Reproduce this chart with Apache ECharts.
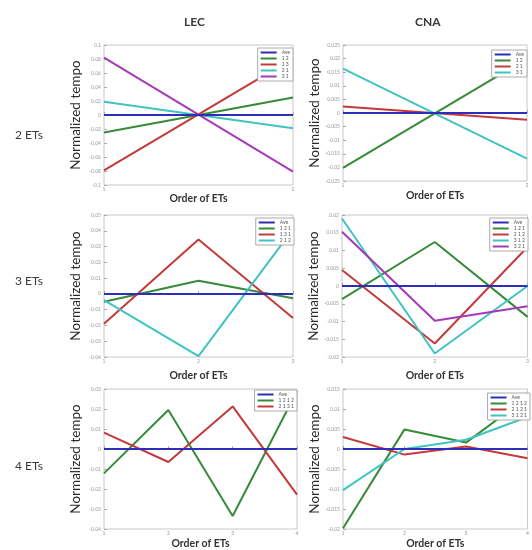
<!DOCTYPE html>
<html><head><meta charset="utf-8">
<script src="https://cdn.jsdelivr.net/npm/echarts@6.0.0/dist/echarts.min.js"></script>
<style>html,body{margin:0;padding:0;background:#fff}#c{width:532px;height:550px}</style>
</head><body><div id="c"></div>
<script>
// ---------- data ----------
const colTitles = ['LEC', 'CNA'];
const rowTitles = ['2 ETs', '3 ETs', '4 ETs'];
const xName = 'Order of ETs';
const yName = 'Normalized tempo';

// 2 ETs - LEC
const lec2Names = ['Ave', '1 2', '1 3', '2 1', '3 1'];
const lec2Ave = [0, 0];
const lec2_12 = [-0.025, 0.025];
const lec2_13 = [-0.079, 0.081];
const lec2_21 = [0.019, -0.019];
const lec2_31 = [0.082, -0.081];
// 2 ETs - CNA
const cna2Names = ['Ave', '1 2', '2 1', '3 1'];
const cna2Ave = [0, 0];
const cna2_12 = [-0.0202, 0.02];
const cna2_21 = [0.0024, -0.0025];
const cna2_31 = [0.0163, -0.0168];
// 3 ETs - LEC
const lec3Names = ['Ave', '1 2 1', '1 3 1', '2 1 2'];
const lec3Ave = [0, 0, 0];
const lec3_121 = [-0.005, 0.0083, -0.0027];
const lec3_131 = [-0.019, 0.0345, -0.0153];
const lec3_212 = [-0.004, -0.0394, 0.041];
// 3 ETs - CNA
const cna3Names = ['Ave', '1 2 1', '2 1 2', '3 1 2', '3 2 1'];
const cna3Ave = [0, 0, 0];
const cna3_121 = [-0.0037, 0.0124, -0.0087];
const cna3_212 = [0.0045, -0.0162, 0.011];
const cna3_312 = [0.019, -0.019, 0];
const cna3_321 = [0.0153, -0.0098, -0.0057];
// 4 ETs - LEC
const lec4Names = ['Ave', '1 2 1 2', '2 1 2 1'];
const lec4Ave = [0, 0, 0, 0];
const lec4_1212 = [-0.0122, 0.0195, -0.0335, 0.029];
const lec4_2121 = [0.0082, -0.0065, 0.0213, -0.0228];
// 4 ETs - CNA
const cna4Names = ['Ave', '1 2 1 2', '2 1 2 1', '3 1 2 1'];
const cna4Ave = [0, 0, 0, 0];
const cna4_1212 = [-0.0198, 0.0049, 0.0016, 0.013];
const cna4_2121 = [0.003, -0.0014, 0.0006, -0.0023];
const cna4_3121 = [-0.0103, 0, 0.0023, 0.008];

// y axis ranges (min, max, step)
const yRanges = [[-0.1, 0.1, 0.02], [-0.025, 0.025, 0.005], [-0.04, 0.05, 0.01], [-0.02, 0.02, 0.005], [-0.04, 0.03, 0.01], [-0.02, 0.015, 0.005]];

// ---------- styling / layout ----------
const C = {blue: '#2e2eb8', green: '#378a37', red: '#c43a3a', cyan: '#3fc3c3', purple: '#a63ab6'};
const panels = [
  {names: lec2Names, vals: [lec2Ave, lec2_12, lec2_13, lec2_21, lec2_31], cols: [C.blue, C.green, C.red, C.cyan, C.purple],
   grid: {left: 104, top: 45, width: 189, height: 140}, leg: {right: 239, top: 48}, xGap: 7},
  {names: cna2Names, vals: [cna2Ave, cna2_12, cna2_21, cna2_31], cols: [C.blue, C.green, C.red, C.cyan],
   grid: {left: 343, top: 45, width: 184, height: 136}, leg: {right: 5, top: 50}, xGap: 9},
  {names: lec3Names, vals: [lec3Ave, lec3_121, lec3_131, lec3_212], cols: [C.blue, C.green, C.red, C.cyan],
   grid: {left: 104, top: 215, width: 189, height: 142}, leg: {right: 238, top: 218}, xGap: 13},
  {names: cna3Names, vals: [cna3Ave, cna3_121, cna3_212, cna3_312, cna3_321], cols: [C.blue, C.green, C.red, C.cyan, C.purple],
   grid: {left: 342, top: 215, width: 186, height: 142}, leg: {right: 4, top: 218}, xGap: 13},
  {names: lec4Names, vals: [lec4Ave, lec4_1212, lec4_2121], cols: [C.blue, C.green, C.red],
   grid: {left: 104, top: 389, width: 193, height: 143}, leg: {right: 235, top: 390}, xGap: 9},
  {names: cna4Names, vals: [cna4Ave, cna4_1212, cna4_2121, cna4_3121], cols: [C.blue, C.green, C.red, C.cyan],
   grid: {left: 343, top: 389, width: 189, height: 142}, leg: {right: 2, top: 393}, xGap: 9}
];

const FONT = 'Lato, "Open Sans", sans-serif';
const grids = [], xAxes = [], yAxes = [], series = [], legends = [];
panels.forEach((p, i) => {
  const n = p.vals[0].length;
  const yr = yRanges[i];
  grids.push(Object.assign({show: true, borderColor: '#c8c8c8', borderWidth: 1, backgroundColor: '#fff'}, p.grid));
  xAxes.push({type: 'value', gridIndex: i, min: 1, max: n, interval: 1,
    name: xName, nameLocation: 'middle', nameGap: p.xGap,
    nameTextStyle: {fontFamily: FONT, fontSize: 10.5, fontWeight: 'bold', color: '#333'},
    axisLine: {show: false}, splitLine: {show: false},
    axisTick: {inside: true, length: 3, lineStyle: {color: '#aaa'}},
    axisLabel: {fontSize: 5, color: '#999', margin: 2, fontFamily: FONT}});
  yAxes.push({type: 'value', gridIndex: i, min: yr[0], max: yr[1], interval: yr[2],
    name: yName, nameLocation: 'middle', nameGap: 21, nameRotate: 90,
    nameTextStyle: {fontFamily: FONT, fontSize: 13.5, color: '#2a2a2a'},
    axisLine: {show: false}, splitLine: {show: false},
    axisTick: {inside: true, length: 3, lineStyle: {color: '#aaa'}},
    axisLabel: {fontSize: 5, color: '#999', margin: 3, fontFamily: FONT}});
  p.vals.forEach((v, k) => {
    series.push({type: 'line', name: p.names[k], xAxisIndex: i, yAxisIndex: i,
      data: v.map((y, j) => [j + 1, y]), symbol: 'none', animation: false,
      lineStyle: {width: 2, color: p.cols[k]}, itemStyle: {color: p.cols[k]}, z: k === 0 ? 3 : 2});
  });
  legends.push({orient: 'vertical', right: p.leg.right, top: p.leg.top,
    data: p.names.map((nm, k) => ({name: nm, icon: 'rect', itemStyle: {color: p.cols[k]}})),
    itemWidth: 16, itemHeight: 2, itemGap: 1, padding: [2, 3, 2, 3],
    backgroundColor: '#fff', borderColor: '#aaa', borderWidth: 1,
    selectedMode: false, textStyle: {fontSize: 5, color: '#555', fontFamily: FONT, padding: [0, 0, 0, 0]}});
});

const titles = [
  {text: colTitles[0], left: 179, top: 11},
  {text: colTitles[1], left: 410, top: 11},
  {text: rowTitles[0], left: 10, top: 124},
  {text: rowTitles[1], left: 10, top: 270},
  {text: rowTitles[2], left: 10, top: 455}
].map((t, i) => Object.assign(t, {textStyle: {fontFamily: FONT, fontSize: 12, fontWeight: i < 2 ? 'bold' : 'normal', color: '#3a3a3a'}}));

const chart = echarts.init(document.getElementById('c'), null, {renderer: 'canvas'});
chart.setOption({animation: false, backgroundColor: '#fff', title: titles,
  grid: grids, xAxis: xAxes, yAxis: yAxes, series: series, legend: legends});
</script></body></html>
